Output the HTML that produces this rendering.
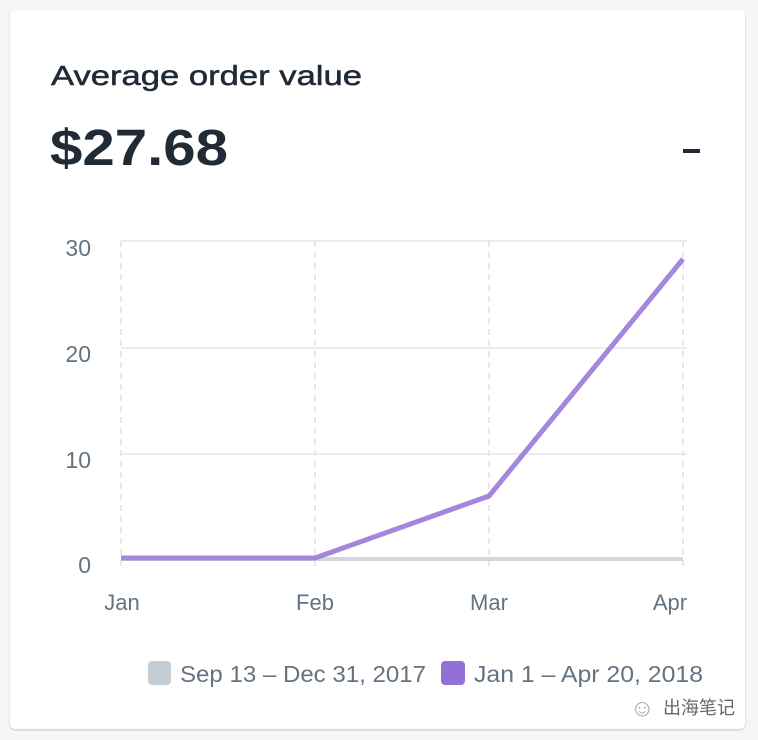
<!DOCTYPE html>
<html><head><style>
body{margin:0;width:758px;height:740px;background:#f4f6f8;font-family:"Liberation Sans",sans-serif;position:relative;overflow:hidden}
.card{position:absolute;left:10px;top:10px;width:735px;height:719px;background:#fff;border-radius:5px;box-shadow:0 1px 2px rgba(0,0,0,.2)}
</style></head><body>
<div class="card"></div>
<svg width="758" height="740" style="position:absolute;left:0;top:0" font-family="Liberation Sans, sans-serif">
<text x="51" y="85" font-size="28" fill="#212b36" stroke="#212b36" stroke-width="0.5" textLength="311" lengthAdjust="spacingAndGlyphs">Average order value</text>
<text x="50" y="165" font-size="51" font-weight="bold" fill="#212b36" textLength="178" lengthAdjust="spacingAndGlyphs">$27.68</text>
<rect x="683" y="149" width="17" height="4" fill="#212b36"/>
<g stroke="#e4e5e7" stroke-width="1.5">
<line x1="121" y1="241" x2="687" y2="241"/>
<line x1="121" y1="348" x2="687" y2="348"/>
<line x1="121" y1="454" x2="687" y2="454"/>
</g>
<g stroke="#dfe1e4" stroke-width="1.5" stroke-dasharray="6,5">
<line x1="121" y1="241" x2="121" y2="568"/>
<line x1="315" y1="241" x2="315" y2="568"/>
<line x1="489" y1="241" x2="489" y2="568"/>
<line x1="683" y1="241" x2="683" y2="568"/>
</g>
<line x1="121" y1="559" x2="683" y2="559" stroke="#d3d7dc" stroke-width="4"/>
<polyline points="121,558 315,558 489,496 683,259" fill="none" stroke="#a487dc" stroke-width="5" stroke-linejoin="round"/>
<g font-size="23" fill="#637381" text-anchor="end">
<text x="91" y="256">30</text><text x="91" y="362">20</text><text x="91" y="468">10</text><text x="91" y="573">0</text>
</g>
<g font-size="22" fill="#637381" text-anchor="middle">
<text x="122" y="610">Jan</text><text x="315" y="610">Feb</text><text x="489" y="610">Mar</text><text x="670" y="610">Apr</text>
</g>
<rect x="148" y="661" width="23" height="24" rx="4" fill="#c4cdd5"/>
<text x="180" y="682" font-size="23" fill="#637381" textLength="246" lengthAdjust="spacingAndGlyphs">Sep 13 – Dec 31, 2017</text>
<rect x="441" y="661" width="24" height="24" rx="4" fill="#9270d6"/>
<text x="474" y="682" font-size="23" fill="#637381" textLength="229" lengthAdjust="spacingAndGlyphs">Jan 1 – Apr 20, 2018</text>
<text x="663" y="714" font-size="18" fill="#666" font-family="Liberation Sans, Noto Sans CJK SC, sans-serif">出海笔记</text>
<text x="630" y="716" font-size="24" fill="#aaa">☺</text>
</svg>
</body></html>
